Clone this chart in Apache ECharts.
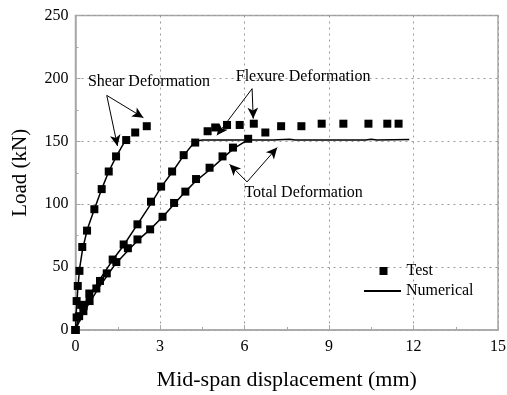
<!DOCTYPE html>
<html>
<head>
<meta charset="utf-8">
<script src="https://cdn.jsdelivr.net/npm/echarts@6/dist/echarts.min.js"></script>
<style>html,body{margin:0;padding:0;background:#fff;}#c{width:507px;height:395px;}</style>
</head>
<body>
<div id="c"></div>
<script>
// ---- data ----
const xTicks = [0, 3, 6, 9, 12, 15];
const yTicks = [0, 50, 100, 150, 200, 250];

const shearTest = [[0,0],[0.04,10],[0.04,23],[0.08,35],[0.14,47],[0.24,66],[0.41,79],[0.67,96],[0.93,112],[1.18,126],[1.44,138],[1.80,151],[2.12,157],[2.53,162]];
const flexureTest = [[0,0],[0.13,11],[0.29,19],[0.49,29],[0.87,39],[1.32,56],[1.71,68],[2.2,84],[2.68,102],[3.04,114],[3.43,126],[3.84,139],[4.25,149],[4.69,158],[4.96,161],[5.38,163],[5.83,163],[6.33,164]];
const totalTest = [[0,0],[0.2,20],[0.28,15],[0.5,23],[0.74,33],[1.11,45],[1.45,54],[1.86,65],[2.2,72],[2.65,80],[3.09,90],[3.5,101],[3.9,110],[4.28,120],[4.76,129],[5.22,138],[5.59,145],[6.13,152],[6.74,157],[7.3,162],[8.02,162],[8.74,164],[9.51,164],[10.4,164],[11.07,164],[11.47,164]];

const shearNum = [[0,0],[0.03,15],[0.08,32],[0.14,48],[0.25,64],[0.42,80],[0.67,96],[0.93,112],[1.18,126],[1.45,138],[1.7,148],[1.88,153]];
const flexureNum = [[0,0],[0.15,12],[0.4,24],[0.8,38],[1.3,55],[1.7,67],[2.2,84],[2.7,101],[3.05,114],[3.45,126],[3.85,139],[4.25,150],[4.5,151],[6.0,151]];
const totalNum = [[0,0],[0.2,10],[0.5,22],[0.9,36],[1.4,52],[1.9,64],[2.2,71],[2.65,80],[3.1,90],[3.5,100],[3.9,110],[4.3,119],[4.8,128],[5.2,136],[5.6,144],[6.1,151],[7.0,151],[7.6,151.6],[7.8,151],[10.3,151],[10.5,151.7],[10.7,151],[11.85,151.5]];

const annotations = [
  {text: 'Shear Deformation', at: [2.61, 197.6]},
  {text: 'Flexure Deformation', at: [8.08, 201.6]},
  {text: 'Total Deformation', at: [8.10, 108.7]}
];
const arrows = [
  [[1.11,186.5],[2.41,168.8]],
  [[1.11,186.5],[1.49,146.3]],
  [[6.27,191.8],[5.02,154.8]],
  [[6.27,191.8],[6.31,168.0]],
  [[6.09,117.7],[5.47,131.7]],
  [[6.09,117.7],[7.16,145.0]]
];

// ---- chart ----
const FONT = 'Liberation Serif';
const chart = echarts.init(document.getElementById('c'), null, {renderer: 'canvas'});

function scatter(d) {
  return {name: 'Test', type: 'scatter', data: d, symbol: 'rect', symbolSize: 8,
          itemStyle: {color: '#000', opacity: 1}, z: 3, silent: true};
}
function line(d) {
  return {name: 'Numerical', type: 'line', data: d, showSymbol: false, symbol: 'none',
          lineStyle: {color: '#000', width: 1.5}, itemStyle: {color: '#000'}, z: 4, silent: true, smooth: false};
}

const option = {
  animation: false,
  backgroundColor: '#fff',
  grid: {left: 75.5, right: 9, top: 15.5, bottom: 65, containLabel: false, outerBoundsMode: 'none',
         show: true, borderColor: '#a8a8a8', borderWidth: 1.5},
  legend: [
    {data: [{name: 'Test', icon: 'rect'}], left: 379.5, top: 263, itemWidth: 8, itemHeight: 8, orient: 'vertical',
     textStyle: {fontFamily: FONT, fontSize: 16, color: '#000', padding: [0,0,0,14]}, selectedMode: false, padding: 0},
    {data: [{name: 'Numerical', icon: 'rect'}], left: 364, top: 283, itemWidth: 37, itemHeight: 1.8, orient: 'vertical',
     textStyle: {fontFamily: FONT, fontSize: 16, color: '#000'}, selectedMode: false, padding: 0, itemGap: 0}
  ],
  xAxis: {
    type: 'value', min: xTicks[0], max: xTicks[xTicks.length-1], interval: 3,
    name: 'Mid-span displacement (mm)', nameLocation: 'middle', nameGap: 39,
    nameTextStyle: {fontFamily: FONT, fontSize: 22, color: '#000'},
    axisLine: {show: true, lineStyle: {color: '#a8a8a8', width: 1.5}},
    axisTick: {show: true, inside: true, length: 5, lineStyle: {color: '#a8a8a8', width: 1}},
    minorTick: {show: true, splitNumber: 2, length: 3, lineStyle: {color: '#a8a8a8', width: 1}},
    axisLabel: {fontFamily: FONT, fontSize: 16, color: '#000', margin: 9},
    splitLine: {show: true, lineStyle: {color: '#999', type: [2, 4], width: 1}}
  },
  yAxis: {
    type: 'value', min: yTicks[0], max: yTicks[yTicks.length-1], interval: 50,
    name: 'Load (kN)', nameLocation: 'middle', nameGap: 45, nameRotate: 90,
    nameTextStyle: {fontFamily: FONT, fontSize: 21, color: '#000'},
    axisLine: {show: true, lineStyle: {color: '#a8a8a8', width: 1.5}},
    axisTick: {show: true, inside: true, length: 5, lineStyle: {color: '#a8a8a8', width: 1}},
    minorTick: {show: true, splitNumber: 2, length: 3, lineStyle: {color: '#a8a8a8', width: 1}},
    axisLabel: {fontFamily: FONT, fontSize: 16, color: '#000', margin: 7},
    splitLine: {show: true, lineStyle: {color: '#999', type: [2, 4], width: 1}}
  },
  series: [
    scatter(shearTest), scatter(flexureTest), scatter(totalTest),
    line(shearNum), line(flexureNum), line(totalNum),
    {
      type: 'line', data: [], silent: true,
      markLine: {
        silent: true, animation: false,
        symbol: ['none', 'arrow'], symbolSize: [8, 11],
        label: {show: false},
        lineStyle: {color: '#000', width: 1, type: 'solid'},
        emphasis: {disabled: true},
        data: arrows.map(a => [{coord: a[0]}, {coord: a[1]}])
      }
    }
  ]
};
chart.setOption(option);

chart.setOption({
  graphic: annotations.map(a => {
    const p = chart.convertToPixel({gridIndex: 0}, a.at);
    return {type: 'text', x: p[0], y: p[1], silent: true, z: 10,
            style: {text: a.text, fontFamily: FONT, fontSize: 16, fill: '#000',
                    align: 'center', verticalAlign: 'middle'}};
  })
});
</script>
</body>
</html>
